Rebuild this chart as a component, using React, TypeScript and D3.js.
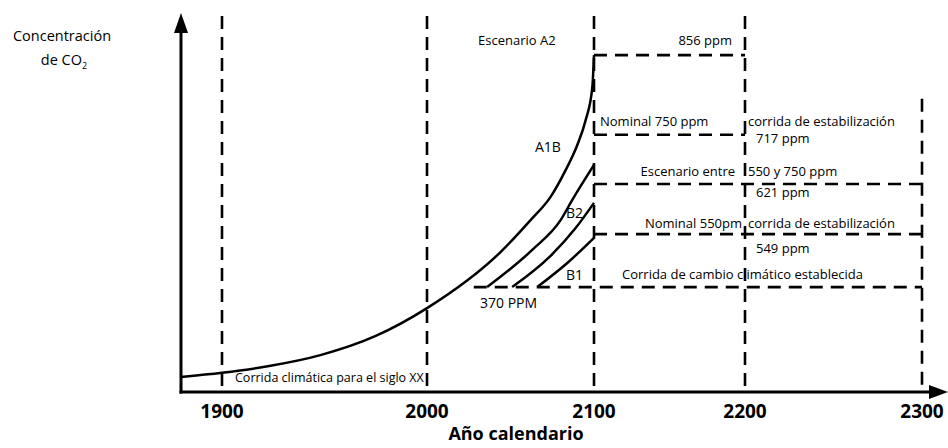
import React from 'react';
import * as d3 from 'd3';

// x axis labels (the schematic axis is not evenly spaced)
const tickYears = [1900, 2000, 2100, 2200, 2300];
// dashed vertical guides and the (relative) level where each starts at the top
const guideYears = [1900, 2000, 2100, 2200, 2300];
const guideTops = [100, 100, 100, 100, 78];

// curves: year and relative concentration (0-100, no y ticks on the figure)
const a2Years = [1880, 1900, 1923, 1948, 1975, 2000, 2044, 2062, 2074, 2083, 2090, 2095, 2099, 2100];
const a2Levels = [4.0, 5.1, 6.9, 9.8, 14.9, 22.3, 37.2, 45.7, 51.9, 59.0, 65.7, 72.3, 81.1, 89.6];
const a1bYears = [2036, 2063, 2080, 2087, 2100];
const a1bLevels = [27.9, 37.8, 45.7, 51.1, 60.4];
const b2Years = [2051, 2074, 2089, 2100];
const b2Levels = [27.9, 36.2, 43.6, 50.3];
const b1Years = [2066, 2084, 2100];
const b1Levels = [27.9, 34.3, 41.0];

// horizontal dashed stabilisation levels
const levelValues = [89.6, 68.4, 55.3, 42.0, 27.9];
const levelFrom = [2100, 2100, 2100, 2100, 2028];
const levelTo = [2200, 2200, 2300, 2300, 2300];

const axisStartYear = 1880;

export default function App() {
  const width = 948;
  const height = 448;

  const x = d3.scaleLinear().domain(tickYears).range([222, 427, 594, 745, 922]);
  const y = d3.scaleLinear().domain([0, 100]).range([392, 16]);

  const line = d3.line<[number, number]>()
    .x(d => x(d[0]))
    .y(d => y(d[1]))
    .curve(d3.curveMonotoneX);

  const curves = [
    d3.zip(a2Years, a2Levels),
    d3.zip(a1bYears, a1bLevels),
    d3.zip(b2Years, b2Levels),
    d3.zip(b1Years, b1Levels),
  ] as [number, number][][];

  const x0 = x(axisStartYear);
  const y0 = y(0);
  const font = "'Open Sans', 'Noto Sans', sans-serif";
  const dash = '13,8';

  return (
    <svg width={width} height={height} style={{ position: 'absolute', left: 0, top: 0 }}
      fontFamily={font} fill="#000">
      <rect width={width} height={height} fill="#fff" />

      {/* vertical guides */}
      {guideYears.map((g, i) => (
        <line key={'g' + i} x1={x(g)} x2={x(g)} y1={y(guideTops[i])} y2={y0}
          stroke="#000" strokeWidth={2.6} strokeDasharray={dash} />
      ))}

      {/* horizontal levels */}
      {levelValues.map((v, i) => (
        <line key={'l' + i} x1={x(levelFrom[i])} x2={x(levelTo[i])} y1={y(v)} y2={y(v)}
          stroke="#000" strokeWidth={2.6} strokeDasharray={dash} />
      ))}

      {/* curves */}
      {curves.map((c, i) => (
        <path key={'c' + i} d={line(c) || ''} fill="none" stroke="#000" strokeWidth={2.5} />
      ))}

      {/* axes */}
      <line x1={x0} x2={x0} y1={y0 + 1.5} y2={32} stroke="#000" strokeWidth={3} />
      <polygon points={`${x0},13 ${x0 - 7},33 ${x0 + 7},33`} fill="#000" />
      <line x1={x0 - 1.5} x2={932} y1={y0} y2={y0} stroke="#000" strokeWidth={3} />
      <polygon points={`948,${y0} 929,${y0 - 7} 929,${y0 + 7}`} fill="#000" />

      {/* x tick labels */}
      {tickYears.map(t => (
        <text key={t} x={x(t)} y={418} textAnchor="middle" fontSize={19} fontWeight="bold">{t}</text>
      ))}
      <text x={516} y={440} textAnchor="middle" fontSize={18} fontWeight="bold">Año calendario</text>

      {/* y title */}
      <text x={62} y={41} textAnchor="middle" fontSize={14.5}>Concentración</text>
      <text x={64} y={65} textAnchor="middle" fontSize={14.5}>de CO<tspan fontSize={9} dy={4}>2</tspan></text>

      {/* annotations */}
      <g fontSize={13}>
        <text x={478} y={45}>Escenario A2</text>
        <text x={732} y={45} textAnchor="end">856 ppm</text>
        <text x={600} y={126}>Nominal 750 ppm</text>
        <text x={748} y={126}>corrida de estabilización</text>
        <text x={756} y={143}>717 ppm</text>
        <text x={735} y={176} textAnchor="end">Escenario entre</text>
        <text x={748} y={176}>550 y 750 ppm</text>
        <text x={756} y={197}>621 ppm</text>
        <text x={742} y={228} textAnchor="end">Nominal 550pm</text>
        <text x={748} y={228}>corrida de estabilización</text>
        <text x={756} y={253}>549 ppm</text>
        <text x={622} y={279}>Corrida de cambio climático establecida</text>
        <text x={480} y={308} fontSize={14}>370 PPM</text>
        <text x={535} y={152} fontSize={14}>A1B</text>
        <text x={566} y={218} fontSize={14}>B2</text>
        <text x={566} y={280} fontSize={14}>B1</text>
      </g>
      <text x={235} y={382} fontSize={12.5}>Corrida climática para el siglo XX</text>
    </svg>
  );
}
